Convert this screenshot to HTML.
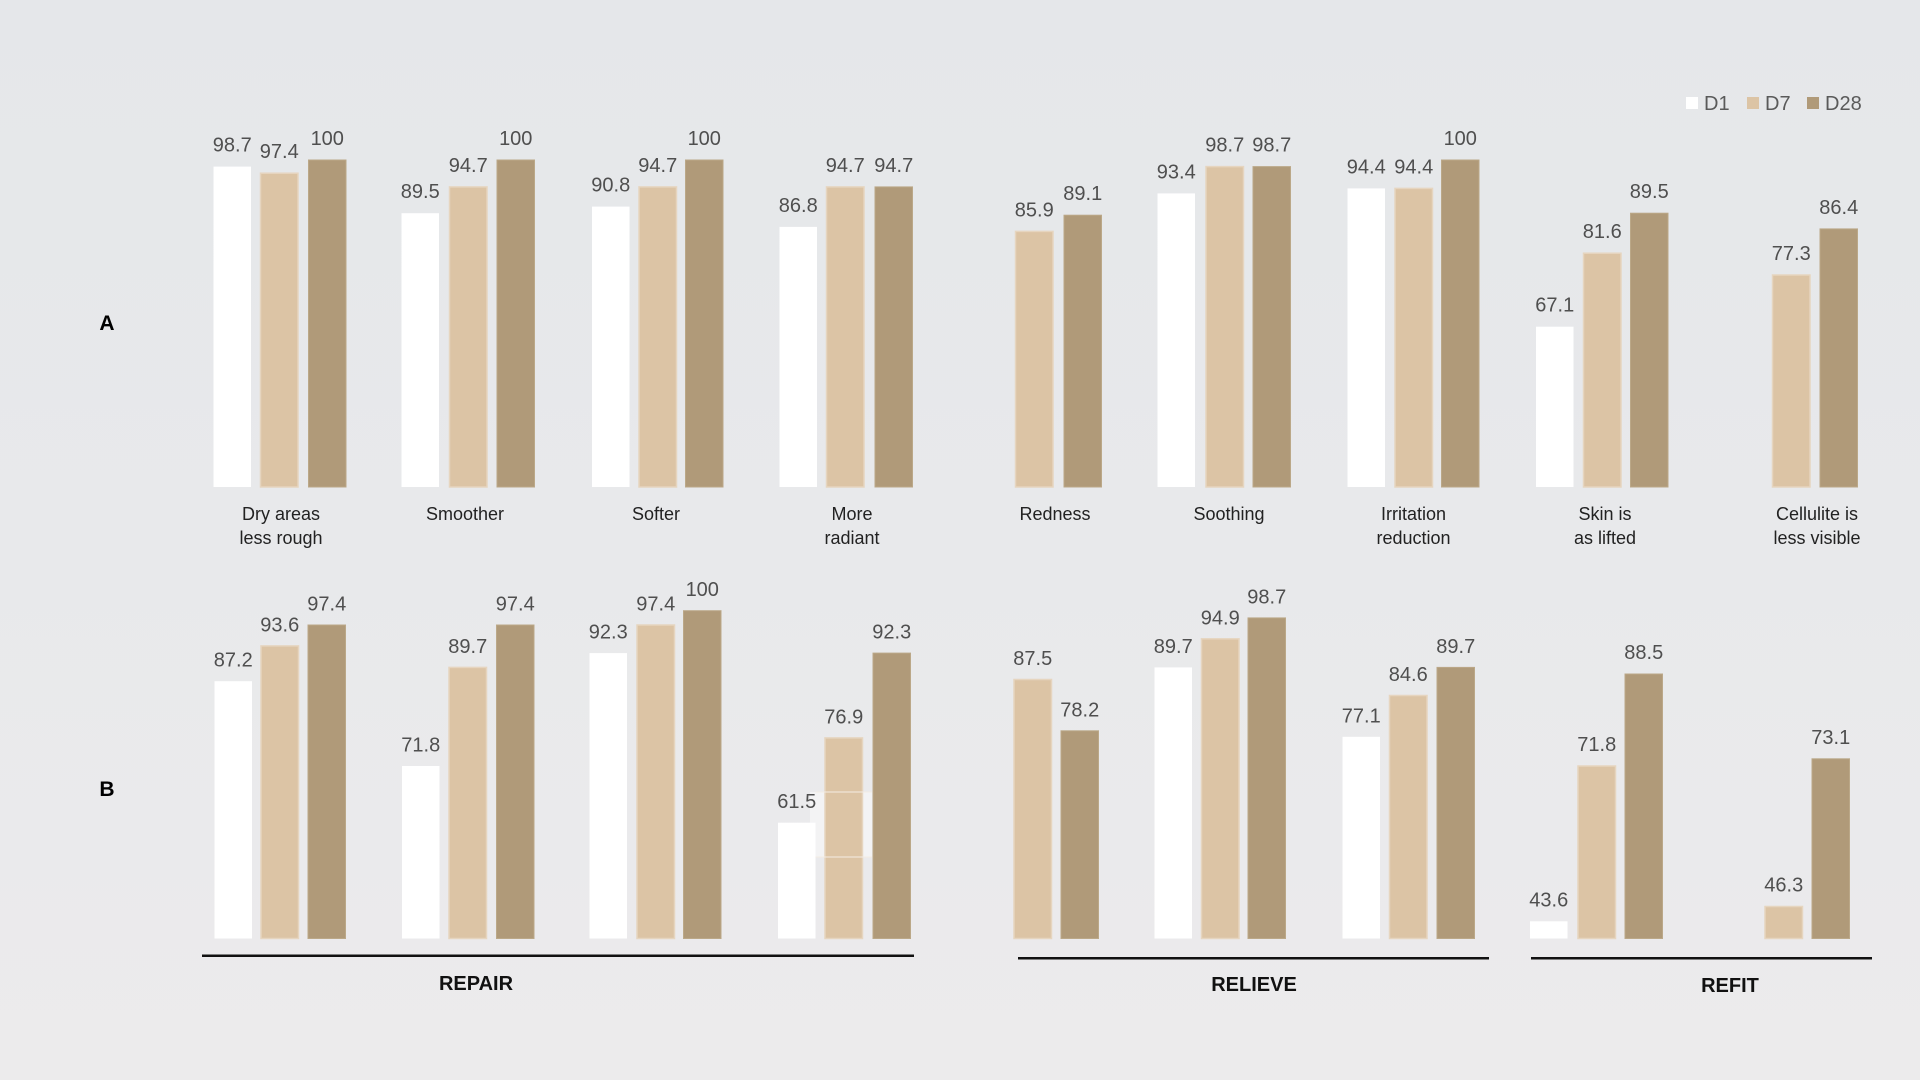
<!DOCTYPE html>
<html>
<head>
<meta charset="utf-8">
<style>
  html,body{margin:0;padding:0;}
  body{width:1920px;height:1080px;overflow:hidden;background:linear-gradient(180deg,#e5e7ea 0%,#e8e9eb 50%,#ecebec 100%);}
  svg{display:block;}
  .a{fill:#ffffff;}
  .b{fill:#dcc4a5;stroke:#e6d5bf;stroke-width:1.5;}
  .c{fill:#b09a79;stroke:#bba888;stroke-width:1;}
  .v{font-family:"Liberation Sans",Arial,sans-serif;font-size:20px;fill:#4f4f4f;text-anchor:middle;}
  .l{font-family:"Liberation Sans",Arial,sans-serif;font-size:18px;fill:#222;text-anchor:middle;}
  .s{font-family:"Liberation Sans",Arial,sans-serif;font-size:20px;font-weight:bold;fill:#111;text-anchor:middle;}
  .g{font-family:"Liberation Sans",Arial,sans-serif;font-size:20px;fill:#5a5a5a;}
  .ab{font-family:"Liberation Sans",Arial,sans-serif;font-size:21px;font-weight:bold;fill:#000;text-anchor:middle;}
</style>
</head>
<body>
<svg width="1920" height="1080" viewBox="0 0 1920 1080" xmlns="http://www.w3.org/2000/svg">
  <!-- Legend -->
  <rect x="1686" y="97" width="12" height="12" fill="#ffffff"/>
  <text class="g" x="1704" y="110">D1</text>
  <rect x="1747" y="97" width="12" height="12" fill="#dcc4a5"/>
  <text class="g" x="1765" y="110">D7</text>
  <rect x="1807" y="97" width="12" height="12" fill="#b09a79"/>
  <text class="g" x="1825" y="110">D28</text>

  <!-- Row labels -->
  <text class="ab" x="107" y="330">A</text>
  <text class="ab" x="107" y="796">B</text>

  <!-- ROW A bars -->
  <rect class="a" x="213.5" y="166.6" width="37.5" height="320.4"/>
  <rect class="b" x="260.5" y="173.2" width="37.5" height="313.8"/>
  <rect class="c" x="308.5" y="160" width="37.5" height="327"/>

  <rect class="a" x="401.5" y="213.2" width="37.5" height="273.8"/>
  <rect class="b" x="449.5" y="186.9" width="37.5" height="300.1"/>
  <rect class="c" x="497" y="160" width="37.5" height="327"/>

  <rect class="a" x="592" y="206.6" width="37.5" height="280.4"/>
  <rect class="b" x="639" y="186.9" width="37.5" height="300.1"/>
  <rect class="c" x="685.5" y="160" width="37.5" height="327"/>

  <rect class="a" x="779.5" y="226.9" width="37.5" height="260.1"/>
  <rect class="b" x="826.5" y="186.9" width="37.5" height="300.1"/>
  <rect class="c" x="875" y="186.9" width="37.5" height="300.1"/>

  <rect class="b" x="1015.5" y="231.4" width="37.5" height="255.6"/>
  <rect class="c" x="1064" y="215.2" width="37.5" height="271.8"/>

  <rect class="a" x="1157.5" y="193.4" width="37.5" height="293.6"/>
  <rect class="b" x="1206" y="166.6" width="37.5" height="320.4"/>
  <rect class="c" x="1253" y="166.6" width="37.5" height="320.4"/>

  <rect class="a" x="1347.5" y="188.4" width="37.5" height="298.6"/>
  <rect class="b" x="1395" y="188.4" width="37.5" height="298.6"/>
  <rect class="c" x="1441.5" y="160" width="37.5" height="327"/>

  <rect class="a" x="1536" y="326.7" width="37.5" height="160.3"/>
  <rect class="b" x="1583.5" y="253.2" width="37.5" height="233.8"/>
  <rect class="c" x="1630.5" y="213.2" width="37.5" height="273.8"/>

  <rect class="b" x="1772.5" y="275" width="37.5" height="212"/>
  <rect class="c" x="1820" y="228.9" width="37.5" height="258.1"/>

  <!-- ROW A values -->
  <text class="v" x="232.25" y="151.6">98.7</text>
  <text class="v" x="279.25" y="158.2">97.4</text>
  <text class="v" x="327.25" y="145">100</text>

  <text class="v" x="420.25" y="198.2">89.5</text>
  <text class="v" x="468.25" y="171.9">94.7</text>
  <text class="v" x="515.75" y="145">100</text>

  <text class="v" x="610.75" y="191.6">90.8</text>
  <text class="v" x="657.75" y="171.9">94.7</text>
  <text class="v" x="704.25" y="145">100</text>

  <text class="v" x="798.25" y="211.9">86.8</text>
  <text class="v" x="845.25" y="171.9">94.7</text>
  <text class="v" x="893.75" y="171.9">94.7</text>

  <text class="v" x="1034.25" y="216.4">85.9</text>
  <text class="v" x="1082.75" y="200.2">89.1</text>

  <text class="v" x="1176.25" y="178.4">93.4</text>
  <text class="v" x="1224.75" y="151.6">98.7</text>
  <text class="v" x="1271.75" y="151.6">98.7</text>

  <text class="v" x="1366.25" y="173.4">94.4</text>
  <text class="v" x="1413.75" y="173.4">94.4</text>
  <text class="v" x="1460.25" y="145">100</text>

  <text class="v" x="1554.75" y="311.7">67.1</text>
  <text class="v" x="1602.25" y="238.2">81.6</text>
  <text class="v" x="1649.25" y="198.2">89.5</text>

  <text class="v" x="1791.25" y="260">77.3</text>
  <text class="v" x="1838.75" y="213.9">86.4</text>

  <!-- ROW A categories -->
  <text class="l" x="281" y="520">Dry areas</text>
  <text class="l" x="281" y="544">less rough</text>
  <text class="l" x="465" y="520">Smoother</text>
  <text class="l" x="656" y="520">Softer</text>
  <text class="l" x="852" y="520">More</text>
  <text class="l" x="852" y="544">radiant</text>
  <text class="l" x="1055" y="520">Redness</text>
  <text class="l" x="1229" y="520">Soothing</text>
  <text class="l" x="1413.5" y="520">Irritation</text>
  <text class="l" x="1413.5" y="544">reduction</text>
  <text class="l" x="1605" y="520">Skin is</text>
  <text class="l" x="1605" y="544">as lifted</text>
  <text class="l" x="1817" y="520">Cellulite is</text>
  <text class="l" x="1817" y="544">less visible</text>

  <!-- ROW B bars -->
  <rect class="a" x="214.5" y="681.2" width="37.5" height="257.3"/>
  <rect class="b" x="261" y="645.9" width="37.5" height="292.6"/>
  <rect class="c" x="308" y="625" width="37.5" height="313.5"/>

  <rect class="a" x="402" y="766" width="37.5" height="172.5"/>
  <rect class="b" x="449" y="667.4" width="37.5" height="271.1"/>
  <rect class="c" x="496.5" y="625" width="37.5" height="313.5"/>

  <rect class="a" x="589.5" y="653.1" width="37.5" height="285.4"/>
  <rect class="b" x="637" y="625" width="37.5" height="313.5"/>
  <rect class="c" x="683.5" y="610.7" width="37.5" height="327.8"/>

  <rect x="810" y="792" width="62" height="65" fill="#f4f4f5" opacity="0.9"/>
  <rect class="a" x="778" y="822.7" width="37.5" height="115.8"/>
  <rect class="b" x="825" y="737.9" width="37.5" height="200.6"/>
  <rect class="c" x="873" y="653.1" width="37.5" height="285.4"/>
  <line x1="815.5" y1="792" x2="872" y2="792" stroke="#f3ece4" stroke-width="1"/>
  <line x1="815.5" y1="857" x2="872" y2="857" stroke="#f3ece4" stroke-width="1"/>

  <rect class="b" x="1014" y="679.5" width="37.5" height="259"/>
  <rect class="c" x="1061" y="730.8" width="37.5" height="207.7"/>

  <rect class="a" x="1154.5" y="667.4" width="37.5" height="271.1"/>
  <rect class="b" x="1201.5" y="638.8" width="37.5" height="299.7"/>
  <rect class="c" x="1248" y="617.9" width="37.5" height="320.6"/>

  <rect class="a" x="1342.5" y="736.8" width="37.5" height="201.7"/>
  <rect class="b" x="1389.5" y="695.5" width="37.5" height="243"/>
  <rect class="c" x="1437" y="667.4" width="37.5" height="271.1"/>

  <rect class="a" x="1530" y="921.3" width="37.5" height="17.2"/>
  <rect class="b" x="1578" y="766" width="37.5" height="172.5"/>
  <rect class="c" x="1625" y="674" width="37.5" height="264.5"/>

  <rect class="b" x="1765" y="906.5" width="37.5" height="32"/>
  <rect class="c" x="1812" y="758.8" width="37.5" height="179.7"/>

  <!-- ROW B values -->
  <text class="v" x="233.25" y="666.7">87.2</text>
  <text class="v" x="279.75" y="631.4">93.6</text>
  <text class="v" x="326.75" y="610.5">97.4</text>

  <text class="v" x="420.75" y="751.5">71.8</text>
  <text class="v" x="467.75" y="652.9">89.7</text>
  <text class="v" x="515.25" y="610.5">97.4</text>

  <text class="v" x="608.25" y="638.6">92.3</text>
  <text class="v" x="655.75" y="610.5">97.4</text>
  <text class="v" x="702.25" y="596.2">100</text>

  <text class="v" x="796.75" y="808.2">61.5</text>
  <text class="v" x="843.75" y="723.4">76.9</text>
  <text class="v" x="891.75" y="638.6">92.3</text>

  <text class="v" x="1032.75" y="665">87.5</text>
  <text class="v" x="1079.75" y="716.3">78.2</text>

  <text class="v" x="1173.25" y="652.9">89.7</text>
  <text class="v" x="1220.25" y="624.3">94.9</text>
  <text class="v" x="1266.75" y="603.4">98.7</text>

  <text class="v" x="1361.25" y="722.3">77.1</text>
  <text class="v" x="1408.25" y="681">84.6</text>
  <text class="v" x="1455.75" y="652.9">89.7</text>

  <text class="v" x="1548.75" y="906.3">43.6</text>
  <text class="v" x="1596.75" y="751">71.8</text>
  <text class="v" x="1643.75" y="659">88.5</text>

  <text class="v" x="1783.75" y="891.5">46.3</text>
  <text class="v" x="1830.75" y="743.8">73.1</text>

  <!-- Section lines -->
  <line x1="202" y1="955.7" x2="914" y2="955.7" stroke="#111" stroke-width="2.5"/>
  <line x1="1018" y1="958.3" x2="1489" y2="958.3" stroke="#111" stroke-width="2.5"/>
  <line x1="1531" y1="958.3" x2="1872" y2="958.3" stroke="#111" stroke-width="2.5"/>

  <text class="s" x="476" y="990">REPAIR</text>
  <text class="s" x="1254" y="991">RELIEVE</text>
  <text class="s" x="1730" y="992">REFIT</text>
</svg>
</body>
</html>
